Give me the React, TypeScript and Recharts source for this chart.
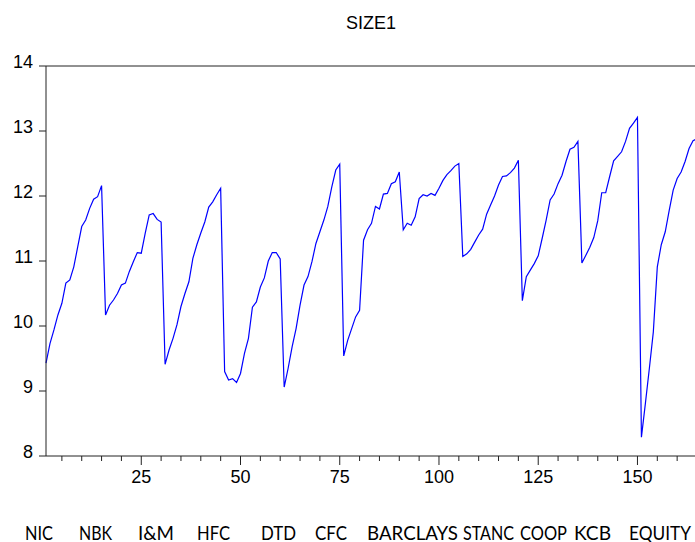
import { LineChart, Line, XAxis, YAxis, ReferenceLine } from 'recharts'

// SIZE1 observations, 15 per bank, in panel order
const nic = [9.43, 9.73, 9.94, 10.17, 10.35, 10.66, 10.71, 10.91, 11.22, 11.53, 11.63, 11.81, 11.95, 11.99, 12.16]
const nbk = [10.17, 10.32, 10.4, 10.5, 10.63, 10.66, 10.84, 10.99, 11.13, 11.12, 11.43, 11.71, 11.73, 11.64, 11.6]
const im = [9.41, 9.63, 9.81, 10.02, 10.3, 10.5, 10.68, 11.04, 11.25, 11.43, 11.6, 11.83, 11.91, 12.02, 12.12]
const hfc = [9.3, 9.17, 9.19, 9.13, 9.27, 9.58, 9.81, 10.29, 10.37, 10.6, 10.74, 11.0, 11.13, 11.13, 11.03]
const dtd = [9.06, 9.35, 9.68, 9.96, 10.32, 10.63, 10.76, 10.99, 11.27, 11.45, 11.63, 11.84, 12.14, 12.4, 12.49]
const cfc = [9.54, 9.78, 9.96, 10.14, 10.24, 11.32, 11.48, 11.58, 11.84, 11.8, 12.03, 12.04, 12.19, 12.22, 12.37]
const barclays = [11.48, 11.58, 11.55, 11.68, 11.96, 12.02, 12.0, 12.04, 12.01, 12.12, 12.24, 12.33, 12.39, 12.46, 12.5]
const stanc = [11.07, 11.11, 11.18, 11.29, 11.4, 11.49, 11.72, 11.86, 12.0, 12.17, 12.3, 12.31, 12.36, 12.43, 12.55]
const coop = [10.39, 10.76, 10.86, 10.96, 11.08, 11.35, 11.63, 11.94, 12.03, 12.19, 12.32, 12.53, 12.72, 12.75, 12.84]
const kcb = [10.97, 11.09, 11.21, 11.36, 11.62, 12.05, 12.05, 12.3, 12.54, 12.61, 12.68, 12.84, 13.04, 13.12, 13.21]
const equity = [8.29, 8.81, 9.35, 9.91, 10.91, 11.25, 11.45, 11.78, 12.09, 12.27, 12.37, 12.53, 12.73, 12.85, 12.88]

const banks = ['NIC', 'NBK', 'I&M', 'HFC', 'DTD', 'CFC', 'BARCLAYS', 'STANC', 'COOP', 'KCB', 'EQUITY']
const yTicks = [8, 9, 10, 11, 12, 13, 14]
const xTicks = [5, 10, 15, 20, 25, 30, 35, 40, 45, 50, 55, 60, 65, 70, 75, 80, 85, 90, 95, 100, 105, 110, 115, 120, 125, 130, 135, 140, 145, 150, 155, 160, 165]

const series = [nic, nbk, im, hfc, dtd, cfc, barclays, stanc, coop, kcb, equity].flat()
const data = series.map((v, i) => ({ obs: i + 1, size1: v }))

// bottom row label placement (page px): left edge and width of each name
const bankLeft = [25, 79, 138, 197, 261, 315, 367, 463, 520, 574, 629]
const bankWidth = [28, 33, 36, 33, 35, 32, 91, 51, 47, 37, 62]

const AXIS = '#222'
const FONT = '"Liberation Sans", Arial, sans-serif'

function XTick(props: any) {
  const { x, y, payload } = props
  const major = payload.value % 25 === 0
  return (
    <g>
      <line x1={x} x2={x} y1={y} y2={y + (major ? 9 : 5)} stroke={AXIS} strokeWidth={1} />
      {major && (
        <text x={x} y={y + 27} textAnchor="middle" fontSize={18} fontFamily={FONT} fill="#000">
          {payload.value}
        </text>
      )}
    </g>
  )
}

function YTick(props: any) {
  const { x, y, payload } = props
  return (
    <g>
      <line x1={x - 7} x2={x} y1={y} y2={y} stroke={AXIS} strokeWidth={1} />
      <text x={x - 13} y={y + 2} textAnchor="end" fontSize={18} fontFamily={FONT} fill="#000">
        {payload.value}
      </text>
    </g>
  )
}

export default function App() {
  return (
    <div style={{ position: 'fixed', left: 0, top: 0, width: 695, height: 542, overflow: 'hidden', background: '#fff' }}>
      <div style={{ position: 'absolute', left: 8, top: 8 }}>
        <LineChart width={700} height={534} data={data} margin={{ top: 58, right: 11, left: 0, bottom: 56 }}>
          <XAxis
            dataKey="obs"
            type="number"
            domain={[1, 165]}
            ticks={xTicks}
            interval={0}
            height={30}
            tickSize={0}
            tickMargin={0}
            tickLine={false}
            tick={<XTick />}
            stroke={AXIS}
          />
          <YAxis
            type="number"
            domain={[8, 14]}
            ticks={yTicks}
            interval={0}
            width={38}
            tickSize={0}
            tickMargin={0}
            tickLine={false}
            tick={<YTick />}
            stroke={AXIS}
          />
          <ReferenceLine y={14} stroke={AXIS} strokeWidth={1} />
          <ReferenceLine x={165} stroke={AXIS} strokeWidth={1} />
          <Line
            type="linear"
            dataKey="size1"
            stroke="#0000ff"
            strokeWidth={1.2}
            dot={false}
            isAnimationActive={false}
          />
        </LineChart>
      </div>
      <svg width={695} height={542} style={{ position: 'absolute', left: 0, top: 0, pointerEvents: 'none' }}>
        <text x={371} y={29} textAnchor="middle" fontSize={18} fontFamily={FONT} fill="#000">
          SIZE1
        </text>
        {banks.map((b, i) => (
          <text
            key={b}
            x={bankLeft[i]}
            y={540}
            textLength={bankWidth[i]}
            lengthAdjust="spacingAndGlyphs"
            fontSize={19}
            fontFamily="Lato, 'Open Sans', sans-serif"
            fill="#000"
          >
            {b}
          </text>
        ))}
      </svg>
    </div>
  )
}
